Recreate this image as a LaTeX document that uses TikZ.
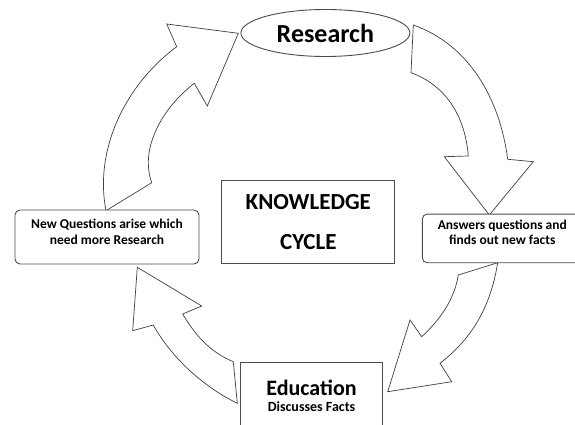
\documentclass[tikz,border=0pt]{standalone}
\usepackage{fontspec}
\setmainfont{Carlito}
\usetikzlibrary{shapes.geometric}

\begin{document}
\begin{tikzpicture}[x=1pt,y=-1pt,
    blockarrow/.style={draw=black!75,line width=0.7pt,fill=white,line join=miter},
    cyclebox/.style={draw=black!70,line width=0.9pt,fill=white,align=center,font=\bfseries},
    roundbox/.style={cyclebox,rounded corners=5pt}]
\clip (0,0) rectangle (575,425);
\fill[white] (0,0) rectangle (575,425);

% the four curved arrows
\draw[blockarrow] (106,210.7) .. controls (94,150) and (125,85) .. (176.7,46.7)
    -- (166.7,24) -- (238.3,33.3) -- (207.3,106) -- (194.3,83.3)
    .. controls (160,110) and (140,150) .. (151.7,182.7) -- cycle;
\draw[blockarrow] (413.3,25) .. controls (470,45) and (500,100) .. (507.7,159.3)
    -- (533.3,161.7) -- (489.3,215) -- (444.3,156.7) -- (468.3,156)
    .. controls (465,115) and (445,85) .. (411,72.7) -- cycle;
\draw[blockarrow] (497.7,262.7) .. controls (490,310) and (470,340) .. (440,363.3)
    -- (451.7,381.7) -- (387.7,391.7) -- (410,320) -- (421.7,336.7)
    .. controls (445,315) and (455,295) .. (458.3,275) -- cycle;
\draw[blockarrow] (237.3,403.3) .. controls (200,385) and (170,355) .. (153.3,325)
    -- (132.7,330.7) -- (137.3,267.3) -- (201.7,306) -- (182.7,314)
    .. controls (195,335) and (210,352) .. (233.3,361.7) -- cycle;

% boxes
\node[ellipse,draw=black!70,line width=0.9pt,fill=white,minimum width=169pt,minimum height=47pt,
    inner sep=0pt,font=\bfseries\fontsize{26}{30}\selectfont] (research) at (325.4,33) {Research};
\node[cyclebox,minimum width=173pt,minimum height=83pt,font=\bfseries\fontsize{23}{27}\selectfont]
    (cycle) at (308.3,222.1) {KNOWLEDGE\\[13pt]CYCLE};
\node[roundbox,minimum width=184pt,minimum height=54pt,font=\bfseries\fontsize{13.5}{16}\selectfont]
    (newq) at (107,237) {New Questions arise which\\need more Research\\[-5pt]};
\node[roundbox,minimum width=160pt,minimum height=48.7pt,font=\bfseries\fontsize{13.5}{15}\selectfont]
    (answers) at (502.3,238.4) {Answers questions and\\finds out new facts\\[-3pt]};
\node[cyclebox,minimum width=141.6pt,minimum height=66pt] (educ) at (311.5,395.7)
    {{\fontsize{22}{24}\selectfont Education}\\[4pt]{\fontsize{14}{18}\selectfont Discusses Facts}};
\end{tikzpicture}
\end{document}
